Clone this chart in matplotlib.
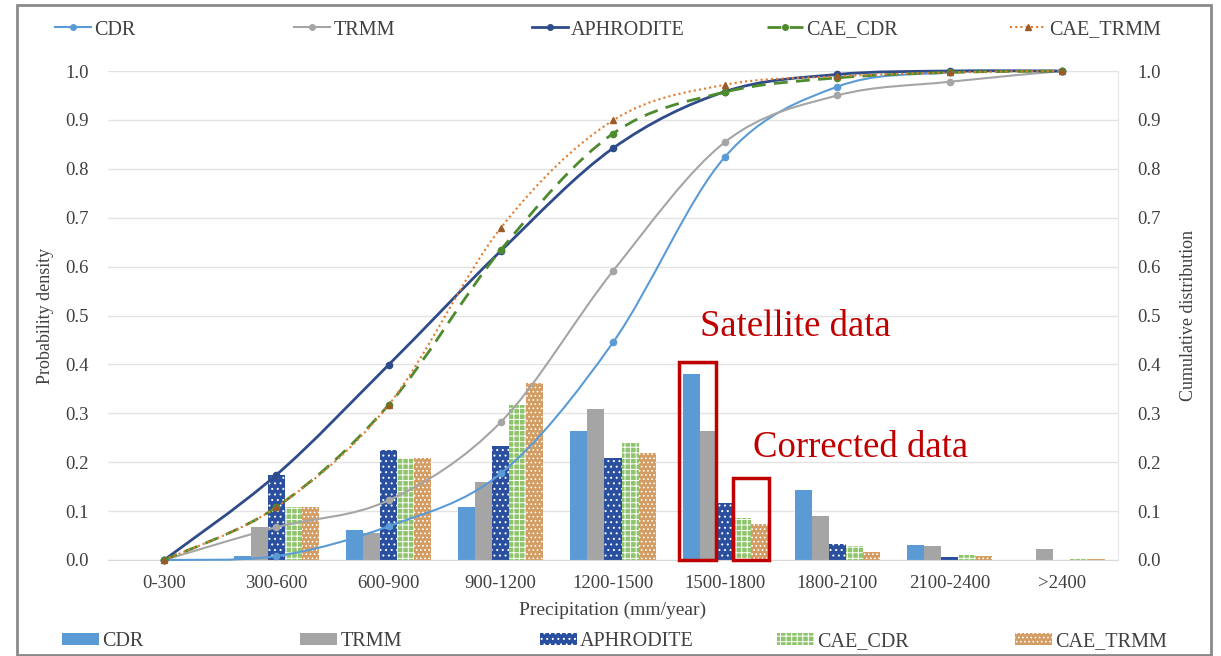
import numpy as np
import matplotlib
matplotlib.use("Agg")
import matplotlib.pyplot as plt
from matplotlib.path import Path
from matplotlib.patches import PathPatch, Rectangle, Patch
from matplotlib.lines import Line2D

plt.rcParams['font.family'] = ['Liberation Serif', 'DejaVu Serif']
plt.rcParams['hatch.linewidth'] = 0.7

categories = ['0-300', '300-600', '600-900', '900-1200', '1200-1500',
              '1500-1800', '1800-2100', '2100-2400', '>2400']
series = ['CDR', 'TRMM', 'APHRODITE', 'CAE_CDR', 'CAE_TRMM']

# probability density (bars)
dens_cdr = [0.0, 0.008, 0.061, 0.108, 0.264, 0.380, 0.143, 0.031, 0.001]
dens_trmm = [0.0, 0.067, 0.055, 0.160, 0.309, 0.264, 0.090, 0.028, 0.022]
dens_aph = [0.0, 0.174, 0.225, 0.233, 0.208, 0.117, 0.033, 0.007, 0.001]
dens_cae_cdr = [0.0, 0.108, 0.209, 0.317, 0.239, 0.086, 0.029, 0.010, 0.002]
dens_cae_trmm = [0.0, 0.108, 0.209, 0.362, 0.218, 0.074, 0.017, 0.008, 0.002]

# cumulative distribution (lines)
cum_cdr = [0.0, 0.008, 0.069, 0.177, 0.445, 0.825, 0.968, 0.997, 1.0]
cum_trmm = [0.0, 0.067, 0.122, 0.282, 0.591, 0.855, 0.950, 0.978, 1.0]
cum_aph = [0.0, 0.174, 0.399, 0.632, 0.842, 0.958, 0.993, 1.0, 1.0]
cum_cae_cdr = [0.0, 0.108, 0.317, 0.634, 0.872, 0.957, 0.986, 0.997, 1.0]
cum_cae_trmm = [0.0, 0.108, 0.317, 0.679, 0.899, 0.972, 0.989, 0.997, 1.0]

bar_colors = ['#5B9BD5', '#A5A5A5', '#2A4F9E', '#8FC46C', '#D39C63']
bar_hatch = [None, None, '...', '+++', '....']
line_colors = ['#5B9BD5', '#A5A5A5', '#2F4B8A', '#4E8A2E', '#E07B2E']
marker_colors = ['#5B9BD5', '#A5A5A5', '#2F4B8A', '#4E8A2E', '#9C5A27']
line_styles = ['-', '-', '-', (0, (5, 3)), (0, (1, 1.5))]
line_widths = [1.5, 1.5, 2.0, 2.0, 1.5]
markers = ['o', 'o', 'o', 'o', '^']


def smooth_path(xs, ys):
	# excel style smoothed line: catmull-rom turned into bezier segments
	pts = np.column_stack([xs, ys]).astype(float)
	verts = [pts[0]]
	codes = [Path.MOVETO]
	n = len(pts)
	for i in range(n - 1):
		p0 = pts[max(i - 1, 0)]
		p1 = pts[i]
		p2 = pts[i + 1]
		p3 = pts[min(i + 2, n - 1)]
		verts += [p1 + (p2 - p0) / 6.0, p2 - (p3 - p1) / 6.0, p2]
		codes += [Path.CURVE4] * 3
	return Path(verts, codes)


fig = plt.figure(figsize=(12.21, 6.56), dpi=100)
ax = fig.add_axes([108 / 1221., 1 - 560 / 656., 1010 / 1221., 489 / 656.])
ax2 = ax.twinx()

x = np.arange(len(categories))
w = 0.152
dens = [dens_cdr, dens_trmm, dens_aph, dens_cae_cdr, dens_cae_trmm]
for i in range(5):
	ax.bar(x + (i - 2) * w, dens[i], width=w, color=bar_colors[i],
		   hatch=bar_hatch[i], edgecolor='white', linewidth=0, zorder=2)

cums = [cum_cdr, cum_trmm, cum_aph, cum_cae_cdr, cum_cae_trmm]
for i in range(5):
	p = PathPatch(smooth_path(x, cums[i]), facecolor='none', edgecolor=line_colors[i],
				  lw=line_widths[i], linestyle=line_styles[i], clip_on=False, zorder=3)
	ax2.add_patch(p)
	ax2.plot(x, cums[i], linestyle='none', marker=markers[i], ms=4.5,
			 color=marker_colors[i], clip_on=False, zorder=4)

for a in (ax, ax2):
	a.set_xlim(-0.5, 8.5)
	a.set_ylim(0, 1.0)
	a.set_yticks(np.arange(0, 1.01, 0.1))
	a.set_yticklabels(['%.1f' % v for v in np.arange(0, 1.01, 0.1)])
	a.tick_params(length=0, labelsize=13.5, colors='#404040', pad=14)
	for s in a.spines.values():
		s.set_visible(False)
ax.spines['bottom'].set_visible(True)
ax.spines['bottom'].set_color('#D9D9D9')
ax2.spines['right'].set_visible(True)
ax2.spines['right'].set_color('#E6E6E6')
ax.grid(axis='y', color='#E3E3E3', lw=1)
ax.set_axisbelow(True)
ax.set_xticks(x)
ax.set_xticklabels(categories)
ax.tick_params(axis='x', pad=11)

ax.set_xlabel('Precipitation (mm/year)', fontsize=14, color='#404040', labelpad=7)
ax.set_ylabel('Probability density', fontsize=13, color='#404040', labelpad=8)
ax2.set_ylabel('Cumulative distribution', fontsize=13, color='#404040',
			   rotation=90, labelpad=14)

# red boxes around the 1500-1800 group
red = '#C00000'
ax2.add_patch(Rectangle((5 - 2.5 * w - 0.03, 0.0), 2 * w + 0.02, 0.405,
						fill=False, edgecolor=red, lw=2.5, clip_on=False, zorder=5))
ax2.add_patch(Rectangle((5 + 0.5 * w - 0.01, 0.0), 2 * w + 0.02, 0.168,
						fill=False, edgecolor=red, lw=2.5, clip_on=False, zorder=5))
ax2.text(4.775, 0.478, 'Satellite data', color=red, fontsize=26.5, va='center', zorder=5)
ax2.text(5.25, 0.229, 'Corrected data', color=red, fontsize=26.5, va='center', zorder=5)

# legends, one entry each so they sit where the original has them
top_x = [55, 294, 532, 767, 1010]
bottom_x = [62, 300, 540, 777, 1015]
for i in range(5):
	h = Line2D([], [], color=line_colors[i], lw=line_widths[i], ls=line_styles[i],
			   marker=markers[i], ms=4, mfc=marker_colors[i], mec=marker_colors[i])
	fig.legend([h], [series[i]], loc='center left', bbox_to_anchor=(top_x[i] / 1221., 1 - 30 / 656.),
			   frameon=False, fontsize=14.5, handlelength=1.8, handletextpad=0.15,
			   borderpad=0, borderaxespad=0, labelcolor='#404040')
	b = Patch(facecolor=bar_colors[i], hatch=bar_hatch[i], edgecolor='white', lw=0)
	fig.legend([b], [series[i]], loc='center left', bbox_to_anchor=(bottom_x[i] / 1221., 1 - 642 / 656.),
			   frameon=False, fontsize=14.5, handlelength=1.85, handleheight=0.55,
			   handletextpad=0.15, borderpad=0, borderaxespad=0, labelcolor='#404040')

# outer frame of the picture
fig.patches.append(Rectangle((17 / 1221., 1 / 656.), 1194 / 1221., 650 / 656.,
							 transform=fig.transFigure, fill=False,
							 edgecolor='#8A8A8A', lw=2))

fig.savefig('out.png', dpi=100)
plt.close(fig)
